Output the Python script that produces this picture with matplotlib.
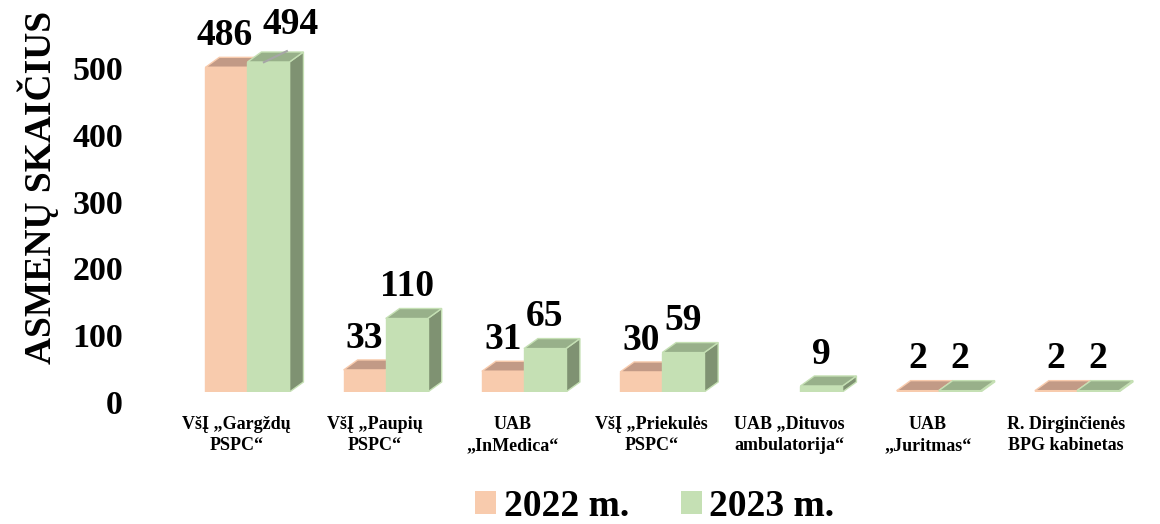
import numpy as np
import matplotlib
matplotlib.use('Agg')
import matplotlib.pyplot as plt
from matplotlib.patches import Polygon, Patch
from matplotlib.transforms import ScaledTranslation

# ── Data ──────────────────────────────────────────────────────────────────────
CATEGORIES = [
    'VšĮ „Gargždų\nPSPC“',
    'VšĮ „Paupių\nPSPC“',
    'UAB\n„InMedica“',
    'VšĮ „Priekulės\nPSPC“',
    'UAB „Dituvos\nambulatorija“',
    'UAB\n„Juritmas“',
    'R. Dirginčienės\nBPG kabinetas',
]
VALUES_2022 = [486, 33, 31, 30, 0, 2, 2]
VALUES_2023 = [494, 110, 65, 59, 9, 2, 2]
SERIES_LABELS = ['2022 m.', '2023 m.']
Y_TICKS = [0, 100, 200, 300, 400, 500]
Y_TITLE = 'ASMENŲ SKAIČIUS'

# ── Style ─────────────────────────────────────────────────────────────────────
plt.rcParams['font.family'] = ['Liberation Serif', 'DejaVu Serif']
plt.rcParams['font.weight'] = 'bold'

FACE = {  # front, top, side
    '2022': ('#F8CBAD', '#C29A86', '#B08A76'),
    '2023': ('#C5E0B4', '#98B08A', '#7F9272'),
}
BAR_W = 0.304     # data units
DEPTH_X = 0.101   # 3-D depth offset (data units)
DEPTH_Y = 15.0


def draw_box(ax, x0, w, h, colors):
    front, top, side = colors
    x1 = x0 + w
    dx, dy = DEPTH_X, DEPTH_Y
    side_poly = [(x1, 0), (x1 + dx, dy), (x1 + dx, h + dy), (x1, h)]
    top_poly = [(x0, h), (x1, h), (x1 + dx, h + dy), (x0 + dx, h + dy)]
    front_poly = [(x0, 0), (x1, 0), (x1, h), (x0, h)]
    for pts, c in ((side_poly, side), (top_poly, top), (front_poly, front)):
        ax.add_patch(Polygon(pts, closed=True, facecolor=c, edgecolor=front,
                             lw=1.0, joinstyle='miter'))


def main():
    fig = plt.figure(figsize=(11.6, 5.24), dpi=100)
    ax = fig.add_axes([0.1293, 0.2519, 0.8707, 0.7139])
    ax.set_xlim(-0.705, 6.601)
    ax.set_ylim(0, 560)

    xs = np.arange(len(CATEGORIES))
    label_fs = 27

    for i, (v22, v23) in enumerate(zip(VALUES_2022, VALUES_2023)):
        x_or = xs[i] - BAR_W
        x_gr = xs[i]
        if v22 > 0:
            draw_box(ax, x_or, BAR_W, v22, FACE['2022'])
        if v23 > 0:
            draw_box(ax, x_gr, BAR_W, v23, FACE['2023'])

        # first group: labels pushed apart (Excel collision avoidance)
        nudge22, nudge23 = (-2, 22) if i == 0 else (0, 0)
        if v22 > 0:
            ax.annotate(str(v22), (x_or + BAR_W / 2, v22 + DEPTH_Y),
                        xytext=(nudge22 * 0.72, 3), textcoords='offset points',
                        ha='center', va='bottom', fontsize=label_fs,
                        fontweight='bold')
        if v23 > 0:
            ax.annotate(str(v23), (x_gr + BAR_W / 2, v23 + DEPTH_Y),
                        xytext=(nudge23 * 0.72, 3 + (4 if i == 0 else 0)),
                        textcoords='offset points',
                        ha='center', va='bottom', fontsize=label_fs,
                        fontweight='bold')
        if i == 0:
            # leader line from shifted label back to its bar
            xc = x_gr + BAR_W / 2
            ax.plot([xc - 0.04, xc + 0.14], [v23 - 1, v23 + 17],
                    color='#A6A6A6', lw=1.5, solid_capstyle='butt')

    # y axis
    ax.set_yticks(Y_TICKS)
    ax.set_yticklabels([str(t) for t in Y_TICKS], fontsize=24.5, fontweight='bold')
    ax.tick_params(axis='y', length=0, pad=19.5)
    for lbl in ax.get_yticklabels():
        lbl.set_transform(lbl.get_transform() +
                          ScaledTranslation(0, -0.10, fig.dpi_scale_trans))

    # x axis
    ax.set_xticks(xs)
    ax.set_xticklabels(CATEGORIES, fontsize=13, fontweight='bold',
                       linespacing=1.35)
    ax.tick_params(axis='x', length=0, pad=17)
    for lbl in ax.get_xticklabels():
        lbl.set_transform(lbl.get_transform() +
                          ScaledTranslation(-0.11, 0, fig.dpi_scale_trans))

    for s in ax.spines.values():
        s.set_visible(False)

    fig.text(38 / 1160, 1 - 187 / 524, Y_TITLE, rotation=90, ha='center',
             va='center', fontsize=27, fontweight='bold')

    handles = [Patch(facecolor=FACE['2022'][0], edgecolor='none'),
               Patch(facecolor=FACE['2023'][0], edgecolor='none')]
    fig.legend(handles, SERIES_LABELS, loc='center',
               bbox_to_anchor=(655 / 1160, 1 - 506 / 524), ncol=2,
               frameon=False, prop={'weight': 'bold', 'size': 27},
               handlelength=0.55, handleheight=0.55, handletextpad=0.2,
               columnspacing=1.4, borderpad=0, borderaxespad=0)

    fig.savefig('out.png', dpi=100)
    plt.close(fig)


if __name__ == '__main__':
    main()
